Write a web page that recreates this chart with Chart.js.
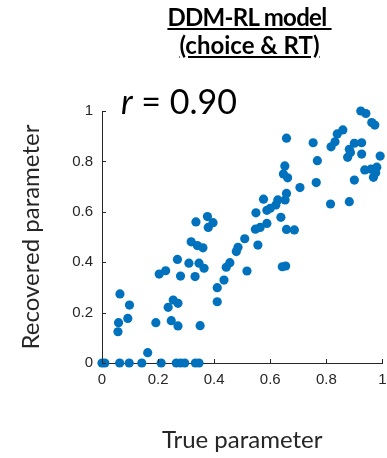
<!DOCTYPE html>
<html>
<head>
<meta charset="utf-8">
<script src="https://cdn.jsdelivr.net/npm/chart.js@4.4.1/dist/chart.umd.min.js"></script>
<style>
  html, body { margin: 0; padding: 0; background: #fff; }
  #wrap { position: relative; width: 387px; height: 458px; overflow: hidden; }
  #chart { position: absolute; left: 0; top: 0; }
  #title {
    position: absolute; left: 106px; top: 3px; width: 287px;
    text-align: center; font-family: Lato, sans-serif; font-weight: bold;
    font-size: 24px; line-height: 28px; color: #000;
  }
  #title span { text-decoration: underline; }
  #title .first { letter-spacing: -0.7px; }
  #rtext {
    position: absolute; left: 121px; top: 80px;
    font-family: Lato, sans-serif; font-size: 34px; color: #000;
  }
</style>
</head>
<body>
<div id="wrap">
  <canvas id="chart" width="387" height="458"></canvas>
  <div id="title"><span class="first">DDM-RL model&nbsp;</span><br><span>(choice &amp; RT)</span></div>
  <div id="rtext"><i>r</i> = 0.90</div>
</div>
<script>
// true vs recovered parameter
const trueParam = [
  0.0, 0.01, 0.063, 0.097, 0.142, 0.211, 0.265, 0.28, 0.295, 0.333, 0.346,
  0.163, 0.057, 0.059, 0.092, 0.098, 0.064, 0.192, 0.236, 0.254, 0.271,
  0.247, 0.271, 0.35, 0.204, 0.227, 0.269, 0.28, 0.31, 0.332, 0.346,
  0.364, 0.318, 0.34, 0.36, 0.335, 0.376, 0.396, 0.379, 0.411, 0.411,
  0.435, 0.443, 0.456, 0.479, 0.485, 0.509, 0.517, 0.556, 0.547, 0.564,
  0.588, 0.549, 0.576, 0.588, 0.6, 0.62, 0.627, 0.638, 0.652, 0.647,
  0.662, 0.658, 0.653, 0.658, 0.686, 0.643, 0.655, 0.658, 0.753, 0.768,
  0.764, 0.706, 0.815, 0.882, 0.817, 0.831, 0.839, 0.859, 0.876, 0.882,
  0.886, 0.9, 0.926, 0.926, 0.9, 0.937, 0.959, 0.98, 0.968, 0.976,
  0.992, 0.923, 0.941, 0.962, 0.973
];
const recoveredParam = [
  0, 0, 0, 0, 0, 0, 0, 0, 0, 0, 0,
  0.041, 0.124, 0.16, 0.177, 0.23, 0.274, 0.16, 0.221, 0.25, 0.237,
  0.168, 0.147, 0.148, 0.353, 0.366, 0.411, 0.345, 0.396, 0.343, 0.396,
  0.376, 0.481, 0.466, 0.457, 0.56, 0.581, 0.557, 0.538, 0.299, 0.243,
  0.329, 0.38, 0.398, 0.442, 0.459, 0.493, 0.365, 0.468, 0.531, 0.538,
  0.554, 0.596, 0.65, 0.606, 0.614, 0.627, 0.647, 0.578, 0.782, 0.75,
  0.735, 0.673, 0.647, 0.53, 0.528, 0.382, 0.385, 0.892, 0.874, 0.803,
  0.716, 0.696, 0.631, 0.64, 0.858, 0.878, 0.909, 0.925, 0.816, 0.848,
  0.835, 0.872, 0.874, 0.829, 0.726, 0.766, 0.769, 0.777, 0.737, 0.755,
  0.821, 1.0, 0.99, 0.954, 0.944
];
const xTicks = [0, 0.2, 0.4, 0.6, 0.8, 1];
const yTicks = [0, 0.2, 0.4, 0.6, 0.8, 1];

const axisColor = '#262626';
const dotColor = '#0072BD';

const points = trueParam.map((x, i) => ({ x, y: recoveredParam[i] }));

// MATLAB style ticks pointing into the plot
const inwardTicks = {
  id: 'inwardTicks',
  afterDatasetsDraw(chart) {
    const { ctx, chartArea: a, scales: { x, y } } = chart;
    ctx.save();
    ctx.strokeStyle = axisColor;
    ctx.lineWidth = 1;
    ctx.beginPath();
    xTicks.forEach((v) => {
      const px = Math.round(x.getPixelForValue(v)) + 0.5;
      ctx.moveTo(px, a.bottom);
      ctx.lineTo(px, a.bottom - 4);
    });
    yTicks.forEach((v) => {
      const py = Math.round(y.getPixelForValue(v)) + 0.5;
      ctx.moveTo(a.left, py);
      ctx.lineTo(a.left + 4, py);
    });
    ctx.stroke();
    ctx.restore();
  }
};

function tickLabel(v) {
  return v === 0 || v === 1 ? String(v) : v.toFixed(1);
}

new Chart(document.getElementById('chart'), {
  type: 'scatter',
  data: {
    datasets: [{
      data: points,
      backgroundColor: dotColor,
      borderColor: dotColor,
      borderWidth: 0,
      pointRadius: 4.6,
      clip: false
    }]
  },
  options: {
    responsive: false,
    animation: false,
    events: [],
    layout: { padding: { left: 17, top: 111, right: 2, bottom: 3 } },
    plugins: { legend: { display: false }, tooltip: { enabled: false } },
    scales: {
      x: {
        type: 'linear',
        min: 0,
        max: 1,
        afterBuildTicks: (s) => { s.ticks = xTicks.map((v) => ({ value: v })); },
        afterFit: (s) => { s.height = 92; s.paddingLeft = 0; s.paddingRight = 0; },
        grid: { display: true, drawOnChartArea: false, drawTicks: false },
        border: { display: true, color: axisColor, width: 1 },
        ticks: {
          padding: 8,
          color: '#262626',
          font: { family: 'Liberation Sans', size: 15 },
          callback: (v) => tickLabel(v),
          maxRotation: 0
        },
        title: {
          display: true,
          text: 'True parameter',
          color: '#262626',
          font: { family: 'Lato', size: 24 },
          padding: { top: 0, bottom: 0 }
        }
      },
      y: {
        type: 'linear',
        min: 0,
        max: 1,
        afterBuildTicks: (s) => { s.ticks = yTicks.map((v) => ({ value: v })); },
        afterFit: (s) => { s.width = 85; },
        grid: { display: true, drawOnChartArea: false, drawTicks: false },
        border: { display: true, color: axisColor, width: 1 },
        ticks: {
          padding: 9,
          color: '#262626',
          font: { family: 'Liberation Sans', size: 15 },
          callback: (v) => tickLabel(v)
        },
        title: {
          display: true,
          text: 'Recovered parameter',
          color: '#262626',
          font: { family: 'Lato', size: 24 },
          padding: { top: 0, bottom: 0 }
        }
      }
    }
  },
  plugins: [inwardTicks]
});
</script>
</body>
</html>
